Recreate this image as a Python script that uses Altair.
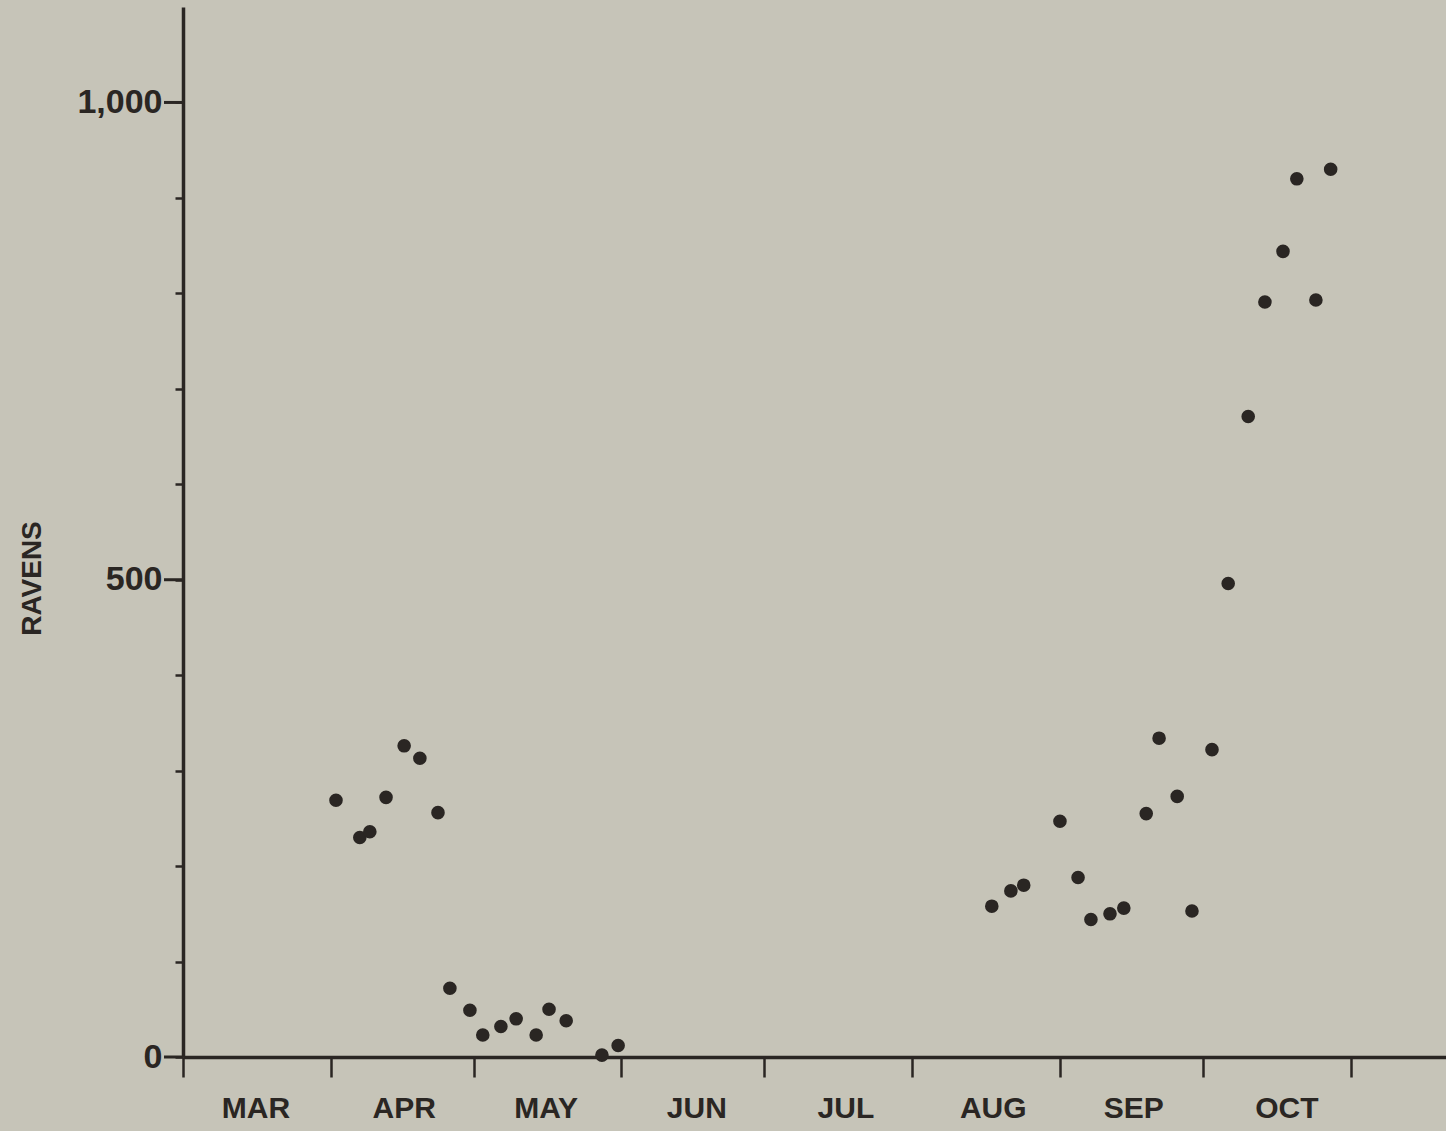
import altair as alt
import pandas as pd

# Days counted from 1 March (day 0); values = number of ravens
spring_day = [32.1, 37.1, 39.2, 42.6, 46.4, 49.7, 53.5, 56.0, 60.2, 62.9, 66.7, 69.9, 74.1, 76.8, 80.4, 87.9, 91.3]
spring_val = [269, 230, 236, 272, 326, 313, 256, 72, 49, 23, 32, 40, 23, 50, 38, 2, 12]
fall_day = [169.7, 173.7, 176.4, 184.0, 187.8, 190.5, 194.5, 197.4, 202.1, 204.8, 208.6, 211.7, 215.9,
            219.3, 223.5, 227.0, 230.8, 233.7, 237.7, 240.8]
fall_val = [158, 174, 180, 247, 188, 144, 150, 156, 255, 334, 273, 153, 322,
            496, 671, 791, 844, 920, 793, 930]

months = ["MAR", "APR", "MAY", "JUN", "JUL", "AUG", "SEP", "OCT"]
month_label_day = [15.3, 46.4, 76.2, 107.8, 139.1, 170.0, 199.5, 231.6]
month_start_day = [0, 31, 61, 92, 122, 153, 184, 214, 245]
y_ticks = [0, 100, 200, 300, 400, 500, 600, 700, 800, 900, 1000]
y_major = [0, 500, 1000]

W, H = 1263, 1050
INK = "#2a2623"
BG = "#c6c4b8"
FONT = "Liberation Sans"

pts = pd.DataFrame({"day": spring_day + fall_day, "ravens": spring_val + fall_val})
mlab = pd.DataFrame({"day": month_label_day, "month": months})
major = pd.DataFrame({"ravens": y_major})

xscale = alt.Scale(domain=[0, 265], nice=False, zero=False)
yscale = alt.Scale(domain=[0, 1100], nice=False)

points = alt.Chart(pts).mark_circle(size=185, color=INK, opacity=1).encode(
    x=alt.X("day:Q", scale=xscale,
            axis=alt.Axis(values=month_start_day, labels=False, title=None, grid=False,
                          tickSize=20, tickWidth=2.5, tickColor=INK,
                          domainColor=INK, domainWidth=3.5)),
    y=alt.Y("ravens:Q", scale=yscale,
            axis=alt.Axis(values=y_ticks, grid=False, tickSize=8, tickWidth=2.5, tickColor=INK,
                          domainColor=INK, domainWidth=3.5,
                          labelExpr="datum.value % 500 == 0 ? format(datum.value, ',') : ''",
                          labelFont=FONT, labelFontSize=34, labelFontWeight="bold",
                          labelColor=INK, labelPadding=13,
                          title="RAVENS", titleFont=FONT, titleFontSize=28,
                          titleFontWeight="bold", titleColor=INK, titleAngle=270,
                          titleAlign="center", titleBaseline="middle",
                          titleX=-151, titleY=571)),
)

major_ticks = alt.Chart(major).mark_rule(color=INK, strokeWidth=3).encode(
    y=alt.Y("ravens:Q", scale=yscale),
    x=alt.value(-19),
    x2=alt.value(0),
)

labels = alt.Chart(mlab).mark_text(
    font=FONT, fontSize=30, fontWeight="bold", color=INK, baseline="middle", align="center"
).encode(
    x=alt.X("day:Q", scale=xscale),
    y=alt.value(H + 52),
    text="month:N",
)

chart = alt.layer(points, major_ticks, labels).properties(
    width=W, height=H, background=BG,
    autosize=alt.AutoSizeParams(type="none"),
    padding={"left": 183, "top": 7, "right": 0, "bottom": 74},
).configure_view(stroke=None)

chart.save("out.html", embed_options={"renderer": "svg", "actions": False})
